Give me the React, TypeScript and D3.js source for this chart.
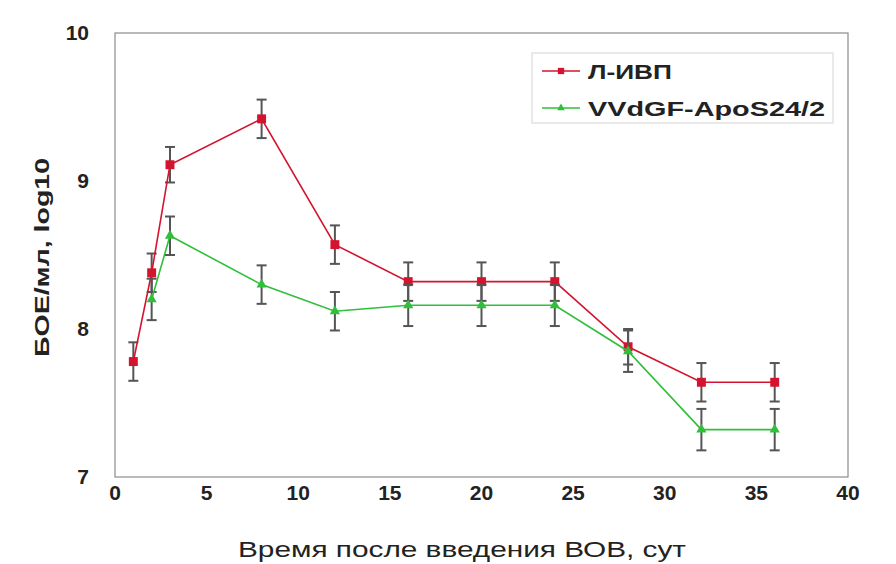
import React, { useEffect, useRef } from 'react';
import * as d3 from 'd3';

const days = [1, 2, 3, 8, 12, 16, 20, 24, 28, 32, 36];
const ivpValues = [7.78, 8.38, 9.11, 9.42, 8.57, 8.32, 8.32, 8.32, 7.88, 7.64, 7.64];
const ivpErrors = [0.13, 0.13, 0.12, 0.13, 0.13, 0.13, 0.13, 0.13, 0.12, 0.13, 0.13];
const apoDays = [2, 3, 8, 12, 16, 20, 24, 28, 32, 36];
const apoValues = [8.2, 8.63, 8.3, 8.12, 8.16, 8.16, 8.16, 7.85, 7.32, 7.32];
const apoErrors = [0.14, 0.13, 0.13, 0.13, 0.14, 0.14, 0.14, 0.14, 0.14, 0.14];
const xTicks = [0, 5, 10, 15, 20, 25, 30, 35, 40];
const yTicks = [7, 8, 9, 10];
const seriesNames = ['Л-ИВП', 'VVdGF-ApoS24/2'];

const RED = '#d4142e';
const GREEN = '#2fbf3a';

const App = () => {
  const svgRef = useRef<SVGSVGElement>(null);

  useEffect(() => {
    const width = 896;
    const height = 564;
    const m = { left: 115, right: 848, top: 33, bottom: 477 };

    const svg = d3.select(svgRef.current)
      .attr('width', width)
      .attr('height', height);
    svg.selectAll('*').remove();

    svg.append('rect')
      .attr('width', width).attr('height', height).attr('fill', '#fff');

    const x = d3.scaleLinear().domain([0, 40]).range([m.left, m.right]);
    const y = d3.scaleLinear().domain([7, 10]).range([m.bottom, m.top]);

    // plot frame
    svg.append('rect')
      .attr('x', m.left).attr('y', m.top)
      .attr('width', m.right - m.left).attr('height', m.bottom - m.top)
      .attr('fill', 'none').attr('stroke', '#8c8c8c').attr('stroke-width', 1.2);

    const font = 'Arial, "Liberation Sans", sans-serif';

    svg.selectAll('.xt')
      .data(xTicks)
      .enter()
      .append('text')
      .attr('x', d => x(d))
      .attr('y', 500)
      .attr('text-anchor', 'middle')
      .attr('font-family', font)
      .attr('font-weight', 'bold')
      .attr('font-size', '21px')
      .attr('fill', '#222')
      .text(d => d);

    svg.selectAll('.yt')
      .data(yTicks)
      .enter()
      .append('text')
      .attr('x', 89)
      .attr('y', d => y(d) + 7)
      .attr('text-anchor', 'end')
      .attr('font-family', font)
      .attr('font-weight', 'bold')
      .attr('font-size', '21px')
      .attr('fill', '#222')
      .text(d => d);

    svg.append('text')
      .attr('x', 238).attr('y', 557)
      .attr('font-family', font)
      .attr('font-size', '22px')
      .attr('textLength', 448)
      .attr('lengthAdjust', 'spacingAndGlyphs')
      .attr('fill', '#222')
      .text('Время после введения ВОВ, сут');

    svg.append('text')
      .attr('transform', 'translate(49,357) rotate(-90)')
      .attr('font-family', font)
      .attr('font-weight', 'bold')
      .attr('font-size', '21px')
      .attr('textLength', 199)
      .attr('lengthAdjust', 'spacingAndGlyphs')
      .attr('fill', '#222')
      .text('БОЕ/мл, log10');

    const series = [
      { xs: days, vals: ivpValues, errs: ivpErrors, color: RED, shape: 'square' },
      { xs: apoDays, vals: apoValues, errs: apoErrors, color: GREEN, shape: 'triangle' },
    ];

    const line = d3.line<{ d: number; v: number }>()
      .x(p => x(p.d)).y(p => y(p.v));

    series.forEach(s => {
      const data = s.xs.map((d, i) => ({ d, v: s.vals[i], e: s.errs[i] }));
      const g = svg.append('g');
      // error bars
      data.forEach(p => {
        const cx = x(p.d);
        g.append('line')
          .attr('x1', cx).attr('x2', cx)
          .attr('y1', y(p.v + p.e)).attr('y2', y(p.v - p.e))
          .attr('stroke', '#555').attr('stroke-width', 2);
        [p.v + p.e, p.v - p.e].forEach(v => {
          g.append('line')
            .attr('x1', cx - 5).attr('x2', cx + 5)
            .attr('y1', y(v)).attr('y2', y(v))
            .attr('stroke', '#555').attr('stroke-width', 2);
        });
      });
      g.append('path')
        .datum(data)
        .attr('d', line)
        .attr('fill', 'none')
        .attr('stroke', s.color)
        .attr('stroke-width', 1.6);
      const sym = s.shape === 'square'
        ? d3.symbol().type(d3.symbolSquare).size(80)
        : d3.symbol().type(d3.symbolTriangle).size(45);
      g.selectAll('path.mk')
        .data(data)
        .enter()
        .append('path')
        .attr('class', 'mk')
        .attr('transform', p => `translate(${x(p.d)},${y(p.v)})`)
        .attr('d', sym)
        .attr('fill', s.color);
    });

    // legend
    const lg = svg.append('g');
    lg.append('rect')
      .attr('x', 532).attr('y', 53).attr('width', 301).attr('height', 70)
      .attr('fill', '#fff').attr('stroke', '#d4d4d4').attr('stroke-width', 1);
    const textWidths = [84, 237];
    seriesNames.forEach((name, i) => {
      const s = series[i];
      const ly = 71 + i * 37;
      lg.append('line')
        .attr('x1', 542).attr('x2', 580).attr('y1', ly).attr('y2', ly)
        .attr('stroke', s.color).attr('stroke-width', 1.6);
      const sym = s.shape === 'square'
        ? d3.symbol().type(d3.symbolSquare).size(40)
        : d3.symbol().type(d3.symbolTriangle).size(25);
      lg.append('path')
        .attr('transform', `translate(561,${ly})`)
        .attr('d', sym)
        .attr('fill', s.color);
      lg.append('text')
        .attr('x', 588).attr('y', ly + 8)
        .attr('font-family', font)
        .attr('font-weight', 'bold')
        .attr('font-size', '20px')
        .attr('textLength', textWidths[i])
        .attr('lengthAdjust', 'spacingAndGlyphs')
        .attr('fill', '#222')
        .text(name);
    });
  }, []);

  return <svg ref={svgRef} style={{ display: 'block', position: 'absolute', left: 0, top: 0 }} />;
};

export default App;
